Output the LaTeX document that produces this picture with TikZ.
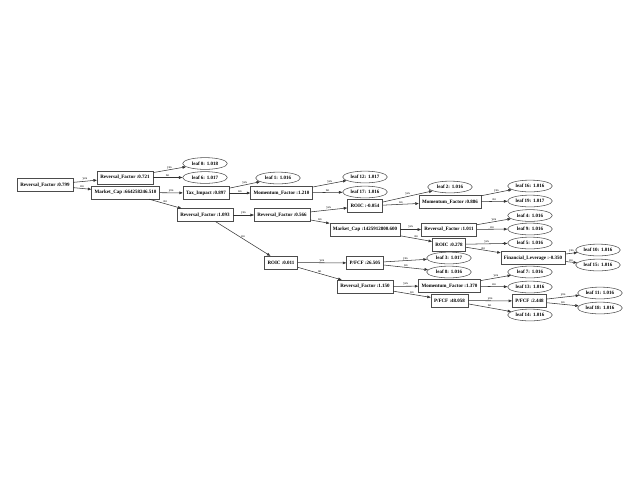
\documentclass[tikz,border=0pt]{standalone}
\usepackage{fontspec}
\setmainfont{Liberation Serif}
\usetikzlibrary{arrows.meta,shapes.geometric}
\begin{document}
\begin{tikzpicture}[x=0.75pt,y=-0.75pt,
  split/.style={draw=black!70,line width=0.4pt,rectangle,inner xsep=2.3pt,inner ysep=0pt,
    minimum height=9.6pt,font=\fontsize{3.75}{4}\selectfont\bfseries},
  leaf/.style={draw=black!70,line width=0.4pt,ellipse,inner sep=0pt,minimum width=33.5pt,
    minimum height=8.8pt,font=\fontsize{3.75}{4}\selectfont\bfseries},
  edge/.style={draw=black!80,line width=0.4pt,-{Triangle[length=2.6pt,width=2pt]}},
  lab/.style={font=\fontsize{2.6}{3}\selectfont,inner sep=0.4pt,above}]
\useasboundingbox (0,0) rectangle (640,480);
% split nodes
\node[split] (r0) at (45,185) {Reversal\_Factor :0.799};
\node[split] (a1) at (125,177.5) {Reversal\_Factor :0.721};
\node[split] (a2) at (125.5,192.5) {Market\_Cap :664258246.510};
\node[split] (b1) at (206,193) {Tax\_Impact :0.897};
\node[split] (b2) at (205,215) {Reversal\_Factor :1.093};
\node[split] (c1) at (281.5,193) {Momentum\_Factor :1.210};
\node[split] (c2) at (282,215) {Reversal\_Factor :0.566};
\node[split] (c3) at (281,262.5) {ROIC :0.011};
\node[split] (d1) at (365,206) {ROIC :-0.054};
\node[split] (d2) at (365,229.5) {Market\_Cap :1425912800.600};
\node[split] (d3) at (365,263) {P/FCF :26.505};
\node[split] (d4) at (365,286.5) {Reversal\_Factor :1.150};
\node[split] (e1) at (450,202) {Momentum\_Factor :0.886};
\node[split] (e2) at (449,229.5) {Reversal\_Factor :1.011};
\node[split] (e3) at (449,244.5) {ROIC :0.278};
\node[split] (e4) at (449.5,286) {Momentum\_Factor :1.370};
\node[split] (e5) at (449.5,300.5) {P/FCF :48.058};
\node[split] (f1) at (533,258) {Financial\_Leverage :-0.350};
\node[split] (f2) at (529.5,301) {P/FCF :2.448};
% leaves
\node[leaf] (l0) at (205,163.5) {leaf 0: 1.018};
\node[leaf] (l6) at (205,177.5) {leaf 6: 1.017};
\node[leaf] (l1) at (278,178) {leaf 1: 1.016};
\node[leaf] (l12) at (365,177) {leaf 12: 1.017};
\node[leaf] (l17) at (365,192) {leaf 17: 1.016};
\node[leaf] (l2) at (450,187) {leaf 2: 1.016};
\node[leaf] (l3) at (449,258) {leaf 3: 1.017};
\node[leaf] (l8) at (449,272) {leaf 8: 1.016};
\node[leaf] (l16) at (530,186) {leaf 16: 1.016};
\node[leaf] (l19) at (530,201) {leaf 19: 1.017};
\node[leaf] (l4) at (530,215.5) {leaf 4: 1.016};
\node[leaf] (l9) at (530,229) {leaf 9: 1.016};
\node[leaf] (l5) at (530,243) {leaf 5: 1.016};
\node[leaf] (l7) at (530,272) {leaf 7: 1.016};
\node[leaf] (l13) at (530,287) {leaf 13: 1.016};
\node[leaf] (l14) at (530,315) {leaf 14: 1.016};
\node[leaf] (l10) at (598,250) {leaf 10: 1.016};
\node[leaf] (l15) at (598,265) {leaf 15: 1.016};
\node[leaf] (l11) at (600,293) {leaf 11: 1.016};
\node[leaf] (l18) at (600,308) {leaf 18: 1.016};
% connectors: each split sends "yes" to its first child and "no" to its second
\foreach \p/\y/\n in {r0/a1/a2, a1/l0/l6, a2/b1/b2, b1/l1/c1, b2/c2/c3,
    c1/l12/l17, c2/d1/d2, c3/d3/d4, d1/l2/e1, d2/e2/e3, d3/l3/l8, d4/e4/e5,
    e1/l16/l19, e2/l4/l9, e3/l5/f1, e4/l7/l13, e5/f2/l14, f1/l10/l15, f2/l11/l18}{
  \draw[edge] (\p) -- node[lab] {yes} (\y);
  \draw[edge] (\p) -- node[lab] {no} (\n);
}
\end{tikzpicture}
\end{document}
